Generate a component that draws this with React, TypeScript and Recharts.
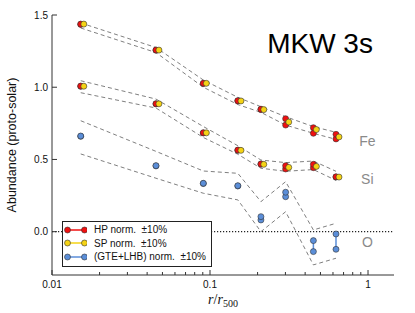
import { ComposedChart, Line, Scatter, XAxis, YAxis, ReferenceLine, ReferenceDot, Legend } from "recharts";

// radial bins (r / r500); SP points are drawn slightly shifted to the right
const radii = [0.0152, 0.0455, 0.0907, 0.150, 0.210, 0.301, 0.451, 0.627];
const radiiSP = [0.0159, 0.0475, 0.0948, 0.157, 0.219, 0.315, 0.471, 0.655];

// HP normalisation (low / high end of the +-10% range)
const feHpHi = [1.437, 1.258, 1.027, 0.907, 0.848, 0.782, 0.720, 0.674];
const feHpLo = [1.435, 1.256, 1.025, 0.905, 0.845, 0.738, 0.681, 0.642];
const siHpHi = [1.008, 0.886, 0.685, 0.565, 0.469, 0.457, 0.466, 0.380];
const siHpLo = [1.006, 0.884, 0.683, 0.563, 0.467, 0.434, 0.443, 0.378];

// SP normalisation
const feSp = [1.437, 1.257, 1.027, 0.905, 0.845, 0.759, 0.707, 0.656];
const siSp = [1.007, 0.885, 0.684, 0.563, 0.466, 0.445, 0.452, 0.378];

// (GTE+LHB) normalisation, oxygen
const oHi = [0.662, 0.457, 0.335, 0.318, 0.104, 0.273, -0.062, -0.016];
const oLo = [0.660, 0.455, 0.333, 0.316, 0.081, 0.242, -0.138, -0.122];

// dashed envelopes
const feUp = [1.445, 1.275, 1.05, 0.93, 0.865, 0.796, 0.727, 0.688];
const feDn = [1.41, 1.24, 1.0, 0.88, 0.826, 0.738, 0.681, 0.639];
const siUp = [1.045, 0.918, 0.728, 0.595, 0.496, 0.478, 0.489, 0.418];
const siDn = [0.962, 0.856, 0.652, 0.536, 0.439, 0.418, 0.43, 0.355];
const oUp = [0.768, 0.556, 0.42, 0.404, 0.208, 0.346, 0.012, 0.058];
const oDn = [0.538, 0.37, 0.266, 0.22, 0.0, 0.138, -0.23, -0.184];

const xMajor = [0.01, 0.1, 1];
const xMinor = [0.02, 0.03, 0.04, 0.05, 0.06, 0.07, 0.08, 0.09, 0.2, 0.3, 0.4, 0.5, 0.6, 0.7, 0.8, 0.9];
const yTicks = [0, 0.5, 1, 1.5];
const legendNames = ["HP norm.  \u00b110%", "SP norm.  \u00b110%", "(GTE+LHB) norm.  \u00b110%"];
const elementLabels = [
  { name: "Fe", r: 0.99, y: 0.628 },
  { name: "Si", r: 0.99, y: 0.365 },
  { name: "O", r: 0.99, y: -0.071 },
];

const RED = "#f01010";
const YELLOW = "#f5d315";
const BLUE = "#5b8ed8";
const AXIS = "#333";
const DASH = "#707070";

const rows = radii.map((r, i) => ({
  r,
  feHi: feHpHi[i], feLo: feHpLo[i],
  siHi: siHpHi[i], siLo: siHpLo[i],
  oHi: oHi[i], oLo: oLo[i],
  feUp: feUp[i], feDn: feDn[i],
  siUp: siUp[i], siDn: siDn[i],
  oUp: oUp[i], oDn: oDn[i],
}));
const spRows = radiiSP.map((r, i) => ({ r, fe: feSp[i], si: siSp[i] }));

// vertical connectors between low and high end of each range
const connectors = [
  ...radii.map((r, i) => ({ key: `fe${i}`, color: RED, pts: [{ r, v: feHpLo[i] }, { r, v: feHpHi[i] }] })),
  ...radii.map((r, i) => ({ key: `si${i}`, color: RED, pts: [{ r, v: siHpLo[i] }, { r, v: siHpHi[i] }] })),
  ...radii.map((r, i) => ({ key: `o${i}`, color: BLUE, pts: [{ r, v: oLo[i] }, { r, v: oHi[i] }] })),
];

const dot = (fill: string) => (p: any) => (
  <circle cx={p.cx} cy={p.cy} r={3} fill={fill} stroke="#333" strokeWidth={0.6} />
);

const BottomTick = (p: any) => {
  const major = xMajor.includes(p.payload.value);
  return (
    <g>
      <line x1={p.x} x2={p.x} y1={p.y} y2={p.y - (major ? 5 : 3)} stroke={AXIS} />
      {major && (
        <text x={p.x} y={p.y + 12.5} textAnchor="middle" fontSize={10} fill="#111">{String(p.payload.value)}</text>
      )}
    </g>
  );
};

const TopTick = (p: any) => {
  const major = xMajor.includes(p.payload.value);
  return <line x1={p.x} x2={p.x} y1={p.y} y2={p.y + (major ? 5 : 3)} stroke={AXIS} />;
};

const LeftTick = (p: any) => (
  <g>
    <line x1={p.x} x2={p.x + 5} y1={p.y} y2={p.y} stroke={AXIS} />
    <text x={p.x - 4} y={p.y + 3.6} textAnchor="end" fontSize={10} fill="#111">{p.payload.value.toFixed(1)}</text>
  </g>
);

const RightTick = (p: any) => <line x1={p.x} x2={p.x - 5} y1={p.y} y2={p.y} stroke={AXIS} />;

const LegendBox = () => (
  <div style={{ boxSizing: "border-box", width: 150, height: 46, border: "1px solid #222", background: "#fff", fontSize: 10, paddingTop: 1 }}>
    {legendNames.map((name, i) => (
      <div key={name} style={{ display: "flex", alignItems: "center", height: 13.5, whiteSpace: "pre" }}>
        <svg width={24} height={8}>
          <line x1={4.5} x2={21.5} y1={4} y2={4} stroke={[RED, YELLOW, BLUE][i]} strokeWidth={1.5} />
          <circle cx={4.5} cy={4} r={3} fill={[RED, YELLOW, BLUE][i]} stroke="#333" strokeWidth={0.6} />
          <circle cx={21.5} cy={4} r={3} fill={[RED, YELLOW, BLUE][i]} stroke="#333" strokeWidth={0.6} />
        </svg>
        <span style={{ marginLeft: 7, color: "#111" }}>{name}</span>
      </div>
    ))}
  </div>
);

const XTitle = (props: any) => {
  const { x, width } = props.viewBox;
  return (
    <text x={x + width / 2} y={304} textAnchor="middle" fontFamily='"Liberation Serif", serif' fontSize={14} fill="#111">
      <tspan fontStyle="italic">r</tspan>
      <tspan>/</tspan>
      <tspan fontStyle="italic">r</tspan>
      <tspan fontSize={10} dy={3}>500</tspan>
    </text>
  );
};

const YTitle = () => (
  <text x={16} y={145} transform="rotate(-90, 16, 145)" textAnchor="middle" fontSize={12.5} fill="#111">
    Abundance (proto-solar)
  </text>
);

export default function App() {
  const dom: [number, number] = [0.01, 1.46];
  const ydom: [number, number] = [-0.3, 1.5];
  return (
    <div style={{ position: "absolute", left: 0, top: 0, fontFamily: '"Liberation Sans", Arial, sans-serif', background: "#fff" }}>
      <ComposedChart width={415} height={313} data={rows} margin={{ top: 15, right: 21, bottom: 0, left: 0 }}>
        <XAxis xAxisId="b" dataKey="r" type="number" scale="log" domain={dom} allowDataOverflow
          ticks={[...xMajor, ...xMinor]} interval={0} tick={BottomTick} tickLine={false} tickSize={0} tickMargin={0}
          height={38} stroke={AXIS} label={<XTitle />} />
        <XAxis xAxisId="t" dataKey="r" type="number" scale="log" domain={dom} allowDataOverflow orientation="top"
          ticks={[...xMajor, ...xMinor]} interval={0} tick={TopTick} tickLine={false} tickSize={0} tickMargin={0}
          height={0} stroke={AXIS} />
        <YAxis yAxisId="l" type="number" domain={ydom} allowDataOverflow ticks={yTicks} interval={0}
          tick={LeftTick} tickLine={false} tickSize={0} tickMargin={0} width={52} stroke={AXIS} label={<YTitle />} />
        <YAxis yAxisId="r" orientation="right" type="number" domain={ydom} allowDataOverflow ticks={yTicks} interval={0}
          tick={RightTick} tickLine={false} tickSize={0} tickMargin={0} width={0} stroke={AXIS} />

        <ReferenceLine xAxisId="b" yAxisId="l" y={0} stroke="#222" strokeWidth={1.2} strokeDasharray="1.2 1.8" />

        {["feUp", "feDn", "siUp", "siDn", "oUp", "oDn"].map((k) => (
          <Line key={k} xAxisId="b" yAxisId="l" dataKey={k} stroke={DASH} strokeWidth={0.9} strokeDasharray="4 3"
            dot={false} activeDot={false} legendType="none" isAnimationActive={false} />
        ))}

        {connectors.map((c) => (
          <Line key={c.key} xAxisId="b" yAxisId="l" data={c.pts} dataKey="v" stroke={c.color} strokeWidth={1.5}
            dot={false} activeDot={false} legendType="none" isAnimationActive={false} />
        ))}

        <Scatter xAxisId="b" yAxisId="l" dataKey="feLo" shape={dot(RED)} isAnimationActive={false} />
        <Scatter xAxisId="b" yAxisId="l" dataKey="feHi" shape={dot(RED)} isAnimationActive={false} />
        <Scatter xAxisId="b" yAxisId="l" dataKey="siLo" shape={dot(RED)} isAnimationActive={false} />
        <Scatter xAxisId="b" yAxisId="l" dataKey="siHi" shape={dot(RED)} isAnimationActive={false} />

        <Scatter xAxisId="b" yAxisId="l" data={spRows} dataKey="fe" shape={dot(YELLOW)} isAnimationActive={false} />
        <Scatter xAxisId="b" yAxisId="l" data={spRows} dataKey="si" shape={dot(YELLOW)} isAnimationActive={false} />

        <Scatter xAxisId="b" yAxisId="l" dataKey="oLo" shape={dot(BLUE)} isAnimationActive={false} />
        <Scatter xAxisId="b" yAxisId="l" dataKey="oHi" shape={dot(BLUE)} isAnimationActive={false} />

        {elementLabels.map((e) => (
          <ReferenceDot key={e.name} xAxisId="b" yAxisId="l" x={e.r} y={e.y} r={0} stroke="none"
            label={{ value: e.name, position: "center", fill: "#8a8a8a", fontSize: 14 }} />
        ))}
        <ReferenceDot xAxisId="b" yAxisId="l" x={0.497} y={1.304} r={0} stroke="none"
          label={{ value: "MKW 3s", position: "center", fill: "#000", fontSize: 28 }} />

        <Legend layout="vertical" align="center" verticalAlign="middle"
          wrapperStyle={{ position: "absolute", left: 62, top: 221, width: 150, height: 46 }}
          content={() => <LegendBox />} />
      </ComposedChart>
    </div>
  );
}
